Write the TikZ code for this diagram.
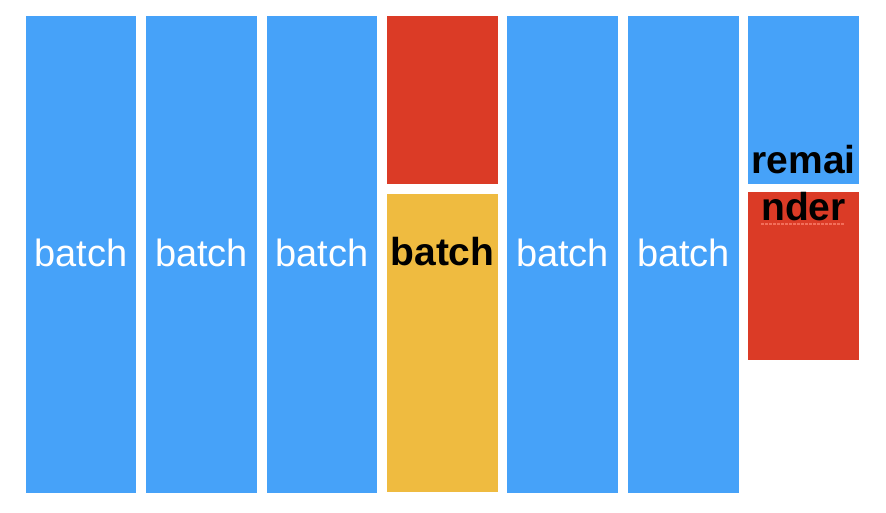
\documentclass[tikz,border=0pt]{standalone}
\usepackage{fontspec}
\setmainfont{Liberation Sans}
\definecolor{cblue}{RGB}{70,162,249}
\definecolor{cred}{RGB}{219,59,38}
\definecolor{cyellow}{RGB}{239,187,64}
\definecolor{cdot}{RGB}{242,110,90}
\begin{document}
\begin{tikzpicture}[x=1pt,y=-1pt,
  bar/.style={fill=#1,draw=none},
  lblw/.style={text=white,font=\fontsize{38}{40}\selectfont,anchor=base,inner sep=0pt},
  lblb/.style={text=black,font=\fontsize{39}{42}\selectfont\bfseries,anchor=base,inner sep=0pt}]
\useasboundingbox (0,0) rectangle (886,512);
\fill[white] (0,0) rectangle (886,512);
% columns
\path[bar=cblue] (26,16) rectangle (136,493);
\path[bar=cblue] (146,16) rectangle (257,493);
\path[bar=cblue] (267,16) rectangle (377,493);
\path[bar=cred] (387,16) rectangle (498,184);
\path[bar=cyellow] (387,194) rectangle (498,492);
\path[bar=cblue] (507,16) rectangle (618,493);
\path[bar=cblue] (628,16) rectangle (739,493);
\path[bar=cblue] (748,16) rectangle (859,184);
\path[bar=cred] (748,192) rectangle (859,360);
% labels
\node[lblw] (b1) at (81,266) {batch};
\node[lblw] (b2) at (201.5,266) {batch};
\node[lblw] (b3) at (322,266) {batch};
\node[lblb] (b4) at (442.5,265) {batch};
\node[lblw] (b5) at (562.5,266) {batch};
\node[lblw] (b6) at (683.5,266) {batch};
\node[lblb] (r1) at (803.5,173) {remai};
\node[lblb] (r2) at (803.5,220) {nder};
\draw[color=cdot,line width=2.5pt,dash pattern=on 2.5pt off 1.5pt] (761,224) -- (844,224);
\end{tikzpicture}
\end{document}
